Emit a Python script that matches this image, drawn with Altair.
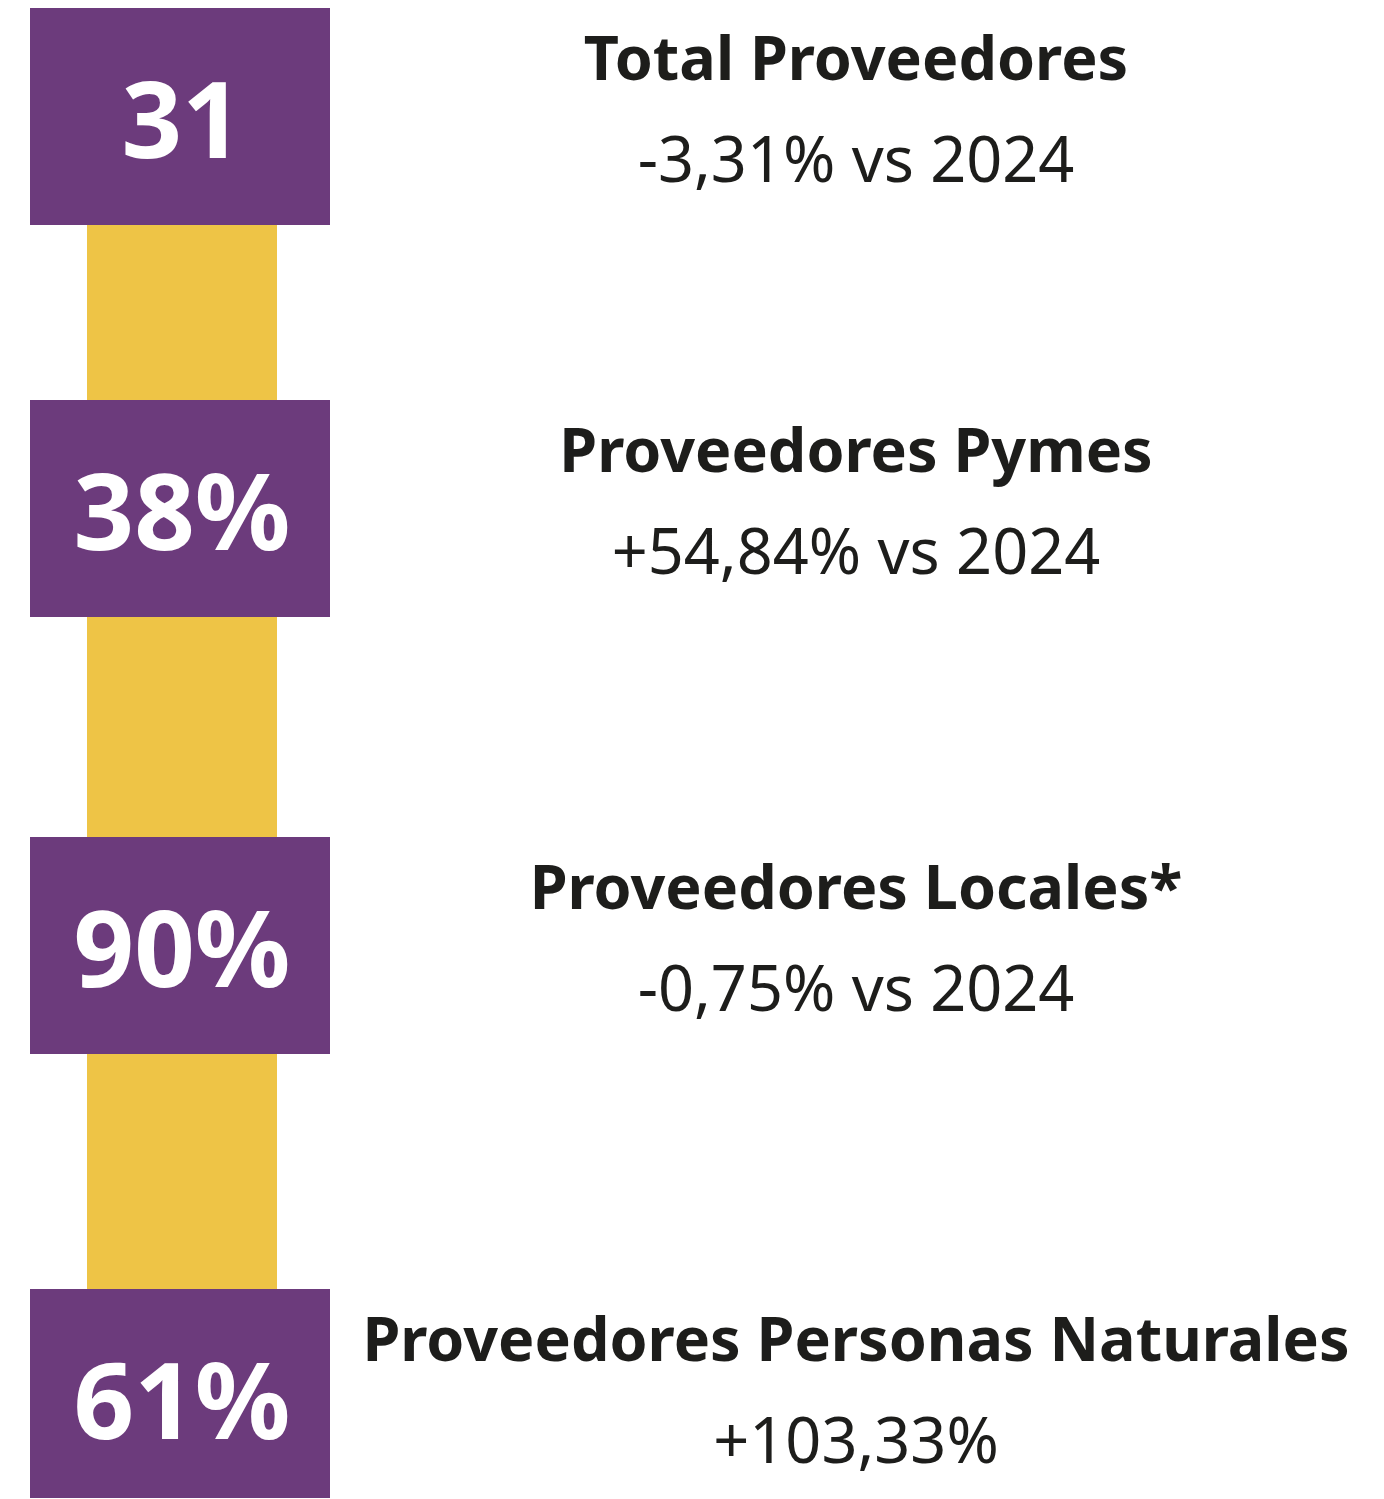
import altair as alt
import pandas as pd

# Data
categories = ["Total Proveedores", "Proveedores Pymes", "Proveedores Locales*", "Proveedores Personas Naturales"]
values = ["31", "38%", "90%", "61%"]
changes = ["-3,31% vs 2024", "+54,84% vs 2024", "-0,75% vs 2024", "+103,33%"]

PURPLE = "#6C3B7C"
YELLOW = "#EEC446"
TEXT = "#1D1D1B"
FONT = "Noto Sans"

df = pd.DataFrame({"idx": list(range(len(categories))), "cat": categories, "value": values, "change": changes})
seg = pd.DataFrame({"a": [0], "b": [len(categories) - 1]})

W, H = 1368, 1490
# piecewise layout scale for the (unevenly spaced) steps
yscale = alt.Scale(domain=[0, 1, 2, 3], range=[108.5, 500.5, 937.5, 1389.5], nice=False, zero=False)
yenc = alt.Y("idx:Q", scale=yscale, axis=None)

connector = alt.Chart(seg).mark_rule(color=YELLOW, strokeWidth=190, strokeCap="butt").encode(
    x=alt.value(174),
    y=alt.Y("a:Q", scale=yscale, axis=None),
    y2="b:Q",
)

boxes = alt.Chart(df).mark_rule(color=PURPLE, strokeWidth=217, strokeCap="butt").encode(
    x=alt.value(22), x2=alt.value(322), y=yenc,
)

nums = alt.Chart(df).mark_text(
    color="white", font=FONT, fontWeight="bold", fontSize=106, baseline="middle", align="center", dy=9
).encode(x=alt.value(174), y=yenc, text="value:N")

titles = alt.Chart(df).mark_text(
    color=TEXT, font=FONT, fontWeight="bold", fontSize=61, baseline="alphabetic", align="center", dy=-37
).encode(x=alt.value(848), y=yenc, text="cat:N")

subs = alt.Chart(df).mark_text(
    color=TEXT, font=FONT, fontSize=63, baseline="alphabetic", align="center", dy=65
).encode(x=alt.value(848), y=yenc, text="change:N")

chart = alt.layer(connector, boxes, nums, titles, subs).properties(
    width=W, height=H, padding=0, autosize=alt.AutoSizeParams(type="none")
).configure(background="white").configure_view(strokeWidth=0, stroke="transparent")

chart.save("out.html", embed_options={"renderer": "svg", "actions": False})
